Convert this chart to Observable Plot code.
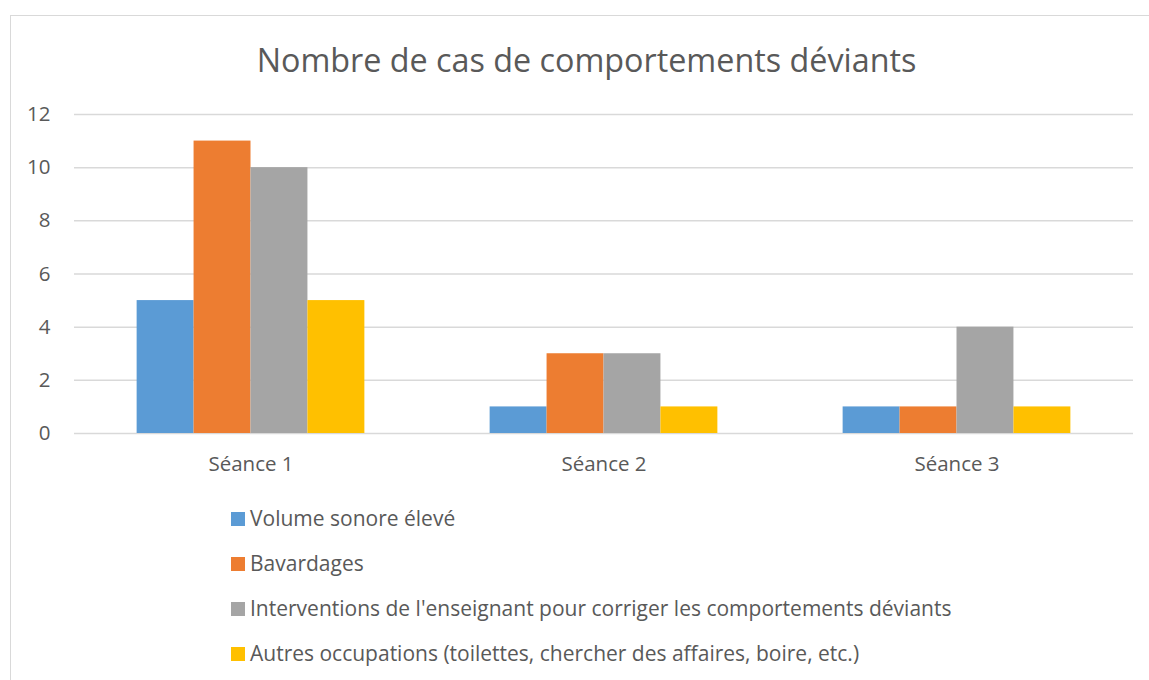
<!DOCTYPE html>
<html>
<head>
<meta charset="utf-8">
<script src="https://cdn.jsdelivr.net/npm/d3@7"></script>
<script src="https://cdn.jsdelivr.net/npm/@observablehq/plot@0.6"></script>
<style>
  html, body { margin: 0; padding: 0; background: #fff; overflow: hidden; width: 1149px; height: 680px; }
  body { position: relative; font-family: "Open Sans", sans-serif; color: #595959; }
  #frame { position: absolute; left: 10px; top: 15px; width: 1170px; height: 700px; border: 1.5px solid #d9d9d9; box-sizing: border-box; }
  #title { position: absolute; left: 10px; top: 39px; width: 1153px; text-align: center; font-size: 32.3px; line-height: 40px; color: #595959; }
  #chart { position: absolute; left: 0; top: 90px; }
  #legend { position: absolute; left: 231px; top: 495.5px; font-size: 21px; line-height: 45px; color: #595959; }
  .row { display: flex; align-items: baseline; white-space: nowrap; }
  .sw { display: inline-block; width: 14px; height: 14px; margin-right: 5px; }
</style>
</head>
<body>
<div id="frame"></div>
<div id="title">Nombre de cas de comportements déviants</div>
<div id="chart"></div>
<div id="legend"></div>
<script>
const seances = ["Séance 1", "Séance 2", "Séance 3"];
const series = [
  "Volume sonore élevé",
  "Bavardages",
  "Interventions de l'enseignant pour corriger les comportements déviants",
  "Autres occupations (toilettes, chercher des affaires, boire, etc.)"
];
const volumeSonore = [5, 1, 1];
const bavardages = [11, 3, 1];
const interventions = [10, 3, 4];
const autres = [5, 1, 1];
const colors = ["#5B9BD5", "#ED7D31", "#A5A5A5", "#FFC000"];
const yTicks = [0, 2, 4, 6, 8, 10, 12];

const valuesBySeries = [volumeSonore, bavardages, interventions, autres];
const data = seances.flatMap((s, i) =>
  series.map((k, j) => ({ seance: s, serie: k, value: valuesBySeries[j][i] }))
);

const chart = Plot.plot({
  width: 1149,
  height: 400,
  marginTop: 24,
  marginBottom: 57,
  marginLeft: 74,
  marginRight: 16,
  style: { fontFamily: "Open Sans, sans-serif", fontSize: "20.5px", color: "#595959", background: "transparent" },
  fx: { domain: seances, padding: 0, round: false, label: null, axis: "bottom", tickSize: 0, tickPadding: 23 },
  x: { domain: series, paddingInner: 0, paddingOuter: 1.1, round: false, axis: null },
  y: { domain: [0, 12], ticks: yTicks, tickSize: 0, tickPadding: 24, label: null },
  color: { domain: series, range: colors },
  marks: [
    Plot.ruleY(yTicks, { stroke: "#d9d9d9", strokeWidth: 1.5 }),
    Plot.barY(data, { fx: "seance", x: "serie", y: "value", fill: "serie", insetLeft: 0, insetRight: 0 })
  ]
});
document.getElementById("chart").appendChild(chart);

const legend = document.getElementById("legend");
series.forEach((s, i) => {
  const row = document.createElement("div");
  row.className = "row";
  const sw = document.createElement("span");
  sw.className = "sw";
  sw.style.background = colors[i];
  const t = document.createElement("span");
  t.textContent = s;
  row.appendChild(sw);
  row.appendChild(t);
  legend.appendChild(row);
});
</script>
</body>
</html>
